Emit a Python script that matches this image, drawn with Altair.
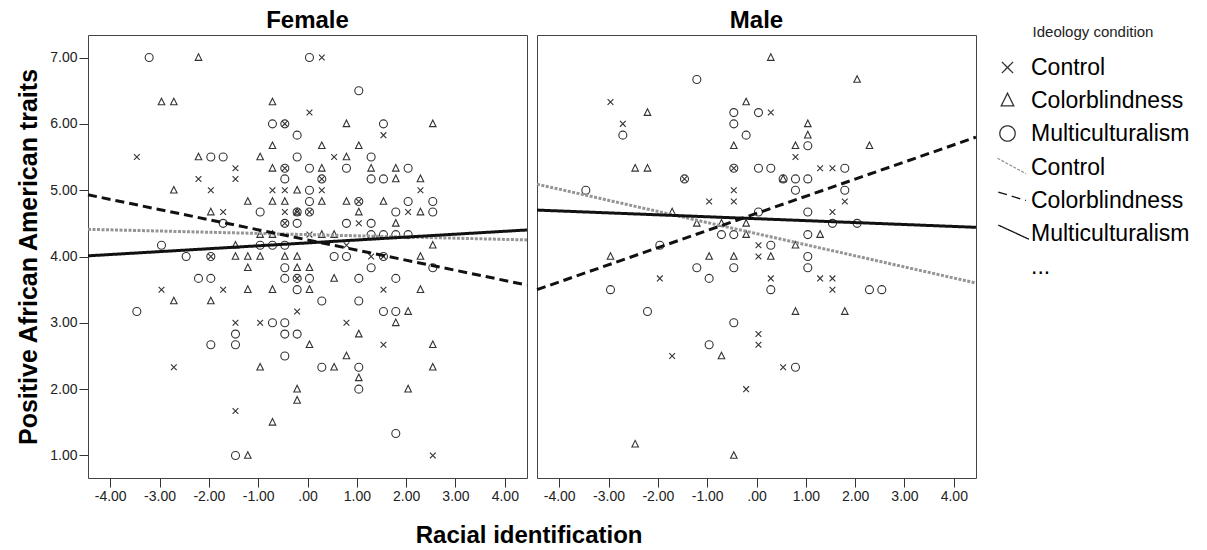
import altair as alt
import pandas as pd

# ---------------- data ----------------
# Female panel
f_ctrl_x = [-3.46,-1.46,-2.21,-1.46,-1.96,-0.71,-0.46,-1.71,-0.46,0.29, 0.04,1.54,0.54,0.29,2.29,2.04,1.04,0.79,1.29,0.04,
            -2.96,-1.71,-1.46,-0.96,-2.71,-1.46,1.54,-0.21,0.79,1.54, 2.54,-0.46,-0.46,0.29,1.04,1.54,-1.96,-0.21,-0.46,-0.21, 0.04]
f_ctrl_y = [5.50,5.33,5.17,5.17,5.00,5.00,5.00,4.67,4.67,7.00, 6.17,5.83,5.50,5.00,5.00,4.67,4.50,4.17,4.00,4.33,
            3.50,3.50,3.00,3.00,2.33,1.67,3.50,3.17,3.00,2.67, 1.00,6.00,5.33,5.17,4.83,4.00,4.00,3.67,4.50,4.67, 4.67]

f_cb_x = [-2.21,-2.96,-2.71,-0.71,-0.71,-2.21,-0.96,-0.71,-2.71,-1.21, -0.71,-0.46,-1.96,-0.71,0.79,2.54,0.29,1.04,0.79,0.29,
          1.29,1.79,1.79,2.29,-0.21,0.29,0.79,1.54,1.04,2.29, 1.79,0.29,0.54,2.54,-0.96,-1.46,-1.46,-1.21,-0.96,-0.46,
          -0.21,2.29,-1.21,-0.21,0.04,-1.21,-0.71,0.04,2.29,-2.71, -1.96,0.54,2.04,1.79,1.04,0.04,2.54,0.79,-0.96,0.54,
          2.54,1.04,-0.21,2.04,-0.21,-0.71,-1.21,-0.21]
f_cb_y = [7.00,6.33,6.33,6.33,5.67,5.50,5.50,5.33,5.00,4.83, 4.83,4.83,4.67,4.33,6.00,6.00,5.67,5.67,5.50,5.33,
          5.33,5.33,5.17,5.17,5.00,4.83,4.83,4.83,4.67,4.67, 4.50,4.33,4.33,4.17,4.33,4.17,4.00,4.00,4.00,4.00,
          4.00,4.00,3.83,3.83,3.83,3.50,3.50,3.50,3.50,3.33, 3.33,3.67,3.17,3.00,2.83,2.67,2.67,2.50,2.33,2.33,
          2.33,2.17,2.00,2.00,1.83,1.50,1.00,4.67]

f_mc_x = [-3.21,-0.71,-0.46,-1.96,-1.71,-0.46,-0.46,-0.96,-1.71,-0.46, -2.96,0.04,1.04,1.54,-0.21,-0.21,1.29,0.04,0.79,2.04,
          0.29,1.29,1.54,0.04,0.04,1.04,2.04,2.54,-0.21,0.04, 1.79,2.54,-0.21,0.79,1.29,1.29,1.54,1.79,2.04,-0.96,
          -0.71,-0.46,-2.46,-1.96,0.54,0.79,1.54,-0.46,1.29,2.54, -2.21,-1.96,-0.46,-0.21,0.04,1.04,1.79,-0.21,0.29,1.04,
          -3.46,1.54,1.79,-0.71,-0.46,-1.46,-0.46,-0.21,-1.96,-1.46, -0.46,0.29,1.04,1.04,1.79,-1.46]
f_mc_y = [7.00,6.00,6.00,5.50,5.50,5.33,5.17,4.67,4.50,4.50, 4.17,7.00,6.50,6.00,5.83,5.50,5.50,5.33,5.33,5.33,
          5.17,5.17,5.17,5.00,4.83,4.83,4.83,4.83,4.67,4.67, 4.67,4.67,4.50,4.50,4.50,4.33,4.33,4.33,4.33,4.17,
          4.17,4.17,4.00,4.00,4.00,4.00,4.00,3.83,3.83,3.83, 3.67,3.67,3.67,3.67,3.67,3.67,3.67,3.50,3.33,3.33,
          3.17,3.17,3.17,3.00,3.00,2.83,2.83,2.83,2.67,2.67, 2.50,2.33,2.33,2.00,1.33,1.00]

# Male panel
m_ctrl_x = [-2.96,-2.71,-1.46,-0.46,-0.46,-0.46,-0.96,0.29,0.79,1.29, 1.54,1.79,1.54,0.04,0.04,0.29,1.29,1.54,1.54,0.04,
            0.04,0.54,-0.21,-1.96,-1.71]
m_ctrl_y = [6.33,6.00,5.17,5.33,5.00,4.83,4.83,6.17,5.50,5.33, 5.33,4.83,4.67,4.17,4.00,3.67,3.67,3.67,3.50,2.83,
            2.67,2.33,2.00,3.67,2.50]

m_cb_x = [-2.21,-0.21,-0.46,-2.46,-2.21,-1.71,-1.21,-0.71,-0.21,-0.21, 0.29,2.04,1.04,1.04,0.79,2.29,0.54,1.29,0.79,0.29,
          0.79,1.79,-2.96,-0.96,-0.46,-0.71,-2.46,-0.46]
m_cb_y = [6.17,6.33,5.67,5.33,5.33,4.67,4.50,4.50,4.50,4.33, 7.00,6.67,6.00,5.83,5.67,5.67,5.17,4.33,4.17,4.00,
          3.17,3.17,4.00,4.00,4.00,2.50,1.17,1.00]

m_mc_x = [-1.21,-0.46,-0.46,-0.21,-2.71,-0.46,-1.46,-3.46,-0.71,-0.46, -1.96,0.04,1.04,0.04,0.29,1.79,0.54,0.79,1.04,0.79,
          1.79,1.04,0.04,1.54,2.04,1.04,0.29,1.04,1.04,0.29, 2.29,2.54,0.79,-1.21,-0.46,-0.96,-2.96,-2.21,-0.46,-0.96]
m_mc_y = [6.67,6.17,6.00,5.83,5.83,5.33,5.17,5.00,4.33,4.33, 4.17,6.17,5.67,5.33,5.33,5.33,5.17,5.17,5.17,5.00,
          5.00,4.67,4.67,4.50,4.50,4.33,4.17,4.00,3.83,3.50, 3.50,3.50,2.33,3.83,3.83,3.67,3.50,3.17,3.00,2.67]

# fit lines (values at the two ends of the x range)
fit_x = [-4.45, 4.45]
f_fit_ctrl = [4.41, 4.25]
f_fit_cb = [4.93, 3.57]
f_fit_mc = [4.01, 4.40]
m_fit_ctrl = [5.09, 3.60]
m_fit_cb = [3.50, 5.80]
m_fit_mc = [4.70, 4.44]

x_ticks = [-4, -3, -2, -1, 0, 1, 2, 3, 4]
y_ticks = [1, 2, 3, 4, 5, 6, 7]

keys = ["Control", "Colorblindness", "Multiculturalism",
        "Control fit", "Colorblindness fit", "Multiculturalism fit", "..."]

# ---------------- tables ----------------
rows = []
for sex, key, xs, ys in [
    ("Female", "Control", f_ctrl_x, f_ctrl_y), ("Female", "Colorblindness", f_cb_x, f_cb_y),
    ("Female", "Multiculturalism", f_mc_x, f_mc_y),
    ("Male", "Control", m_ctrl_x, m_ctrl_y), ("Male", "Colorblindness", m_cb_x, m_cb_y),
    ("Male", "Multiculturalism", m_mc_x, m_mc_y)]:
    assert len(xs) == len(ys)
    for a, b in zip(xs, ys):
        rows.append({"sex": sex, "key": key, "x": a, "y": b})
points = pd.DataFrame(rows)

lrows = []
for sex, key, ys in [
    ("Female", "Control fit", f_fit_ctrl), ("Female", "Colorblindness fit", f_fit_cb),
    ("Female", "Multiculturalism fit", f_fit_mc),
    ("Male", "Control fit", m_fit_ctrl), ("Male", "Colorblindness fit", m_fit_cb),
    ("Male", "Multiculturalism fit", m_fit_mc)]:
    for a, b in zip(fit_x, ys):
        lrows.append({"sex": sex, "key": key, "x": a, "y": b})
lines = pd.DataFrame(lrows)

# ---------------- styles ----------------
CROSS = "M-0.72,-0.72L0.72,0.72M0.72,-0.72L-0.72,0.72"
TRI = "M0,-0.95L0.82,0.7L-0.82,0.7Z"
CIRC = "M1,0A1,1,0,1,1,-1,0A1,1,0,1,1,1,0Z"
L_DOT = "M-1.3,-1.2L2.4,0.8"
L_DASH = "M-1.2,-1.1L2.4,0.0"
L_SOLID = "M-1.2,-1.1L2.8,0.75"
shape_range = [CROSS, TRI, CIRC, L_DOT, L_DASH, L_SOLID, "M0,0"]
color_range = ["#333333", "#333333", "#333333", "#959595", "#111111", "#111111", "rgba(0,0,0,0)"]
dash_range = [[1, 0], [1, 0], [1, 0], [3, 1.5], [9, 5], [1, 0], [1, 0]]

FONT = "Liberation Sans"

legend = alt.Legend(
    title="Ideology condition", orient="none", legendX=908, legendY=-10,
    titleFontSize=15, titleFontWeight="normal", titleColor="#222222", titleAnchor="middle",
    titlePadding=16, labelFontSize=23, labelColor="#000000", labelLimit=400,
    labelExpr="replace(datum.label, ' fit', '')", symbolSize=236, symbolStrokeWidth=1.3,
    rowPadding=9, labelOffset=12, padding=0, symbolFillColor="transparent",
)

xscale = alt.Scale(domain=[-4.45, 4.45], nice=False, zero=False)
yscale = alt.Scale(domain=[0.66, 7.34], nice=False, zero=False)

x_axis = alt.Axis(values=x_ticks, title=None,
                  labelExpr="(datum.value < 0 ? '-' : '') + (datum.value == 0 ? '.00' : format(abs(datum.value), '.2f'))")
y_axis = alt.Axis(values=y_ticks, format=".2f", title="Positive African American traits",
                  titleFontSize=25, titleFontWeight="bold", titlePadding=8, titleColor="#000000")

shape_enc = alt.Shape("key:N", scale=alt.Scale(domain=keys, range=shape_range), legend=legend)
color_enc = alt.Color("key:N", scale=alt.Scale(domain=keys, range=color_range), legend=legend)
dash_enc = alt.StrokeDash("key:N", scale=alt.Scale(domain=keys, range=dash_range), legend=legend)


def panel(sex, show_y):
    pts = alt.Chart(points).transform_filter(alt.datum.sex == sex).mark_point(
        filled=False, opacity=1, size=64, strokeWidth=1.1
    ).encode(
        x=alt.X("x:Q", scale=xscale, axis=x_axis),
        y=alt.Y("y:Q", scale=yscale, axis=y_axis if show_y else None),
        shape=shape_enc,
        color=color_enc,
    )
    fit = alt.Chart(lines).transform_filter(alt.datum.sex == sex).mark_line(
        strokeWidth=3, strokeCap="butt", opacity=1
    ).encode(
        x=alt.X("x:Q", scale=xscale, axis=x_axis),
        y=alt.Y("y:Q", scale=yscale, axis=y_axis if show_y else None),
        color=color_enc,
        strokeDash=dash_enc,
    )
    return alt.layer(pts, fit).properties(
        width=439, height=443,
        title=alt.TitleParams(sex, fontSize=24, fontWeight="bold", anchor="middle",
                              offset=2, color="#000000"),
    )


chart = alt.hconcat(panel("Female", True), panel("Male", False), spacing=10, bounds="flush").properties(
    padding={"left": 8, "top": 0, "right": 2, "bottom": 0},
    title=alt.TitleParams("Racial identification", orient="bottom", anchor="middle",
                          fontSize=24, fontWeight="bold", color="#000000", offset=20, dx=-74),
).configure(font=FONT).configure_view(
    stroke="#444444", strokeWidth=1
).configure_axis(
    grid=False, domain=False, tickColor="#333333", tickSize=9, tickWidth=1,
    labelFont=FONT, labelFontSize=14, labelColor="#222222", labelPadding=2, titleFont=FONT,
).configure_title(font=FONT).configure_legend(labelFont=FONT, titleFont=FONT)

chart.save("out.html", embed_options={"renderer": "svg", "actions": False})
